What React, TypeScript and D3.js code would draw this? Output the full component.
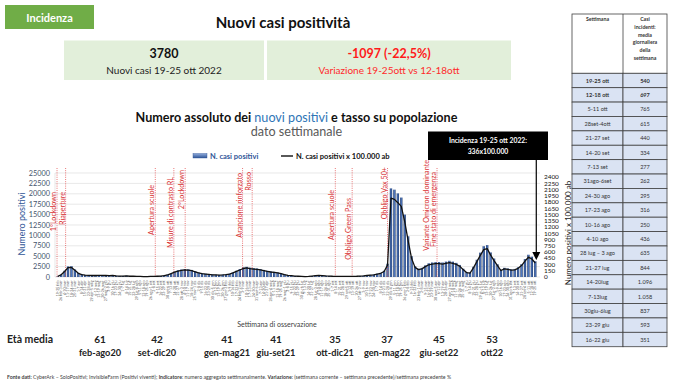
import React from 'react';
import * as d3 from 'd3';

const FONT = 'Lato, "Open Sans", sans-serif';

// N. casi positivi settimanali (17-23 feb 2020 ... 19-25 ott 2022)
const casiSettimanali = [
  150, 600, 1500, 2550, 2600, 1800, 1000, 650, 480, 420,
  400, 400, 420, 450, 400, 350, 400, 300, 250, 250,
  300, 200, 200, 150, 150, 120, 120, 150, 150, 200,
  250, 400, 600, 900, 1300, 1600, 1800, 1900, 1850, 1700,
  1400, 1100, 900, 800, 700, 600, 550, 500, 550, 650,
  800, 1100, 1500, 1900, 2300, 2450, 2250, 2150, 2050, 1900,
  1700, 1500, 1350, 1250, 1100, 900, 650, 450, 350, 250,
  200, 150, 120, 150, 250, 350, 400, 380, 300, 250,
  200, 180, 160, 150, 150, 160, 180, 200, 250, 300,
  400, 500, 600, 800, 1000, 1500, 3200, 21300, 21000, 20100,
  19100, 15000, 9800, 5000, 2600, 2000, 2200, 2800, 3300, 3500,
  3600, 3600, 3500, 3700, 3900, 3700, 3400, 2900, 2000, 1200,
  1050, 2457, 4151, 5859, 7406, 7672, 5908, 4445, 3052, 1750,
  2212, 2065, 1834, 1939, 2338, 3080, 4305, 5355, 4879, 3780,
];

// popolazione: 3780 casi -> 336 x 100.000 ab
const popolazione = 1125000;

const mesi = ['gen', 'feb', 'mar', 'apr', 'mag', 'giu', 'lug', 'ago', 'set', 'ott', 'nov', 'dic'];
const inizioUltimaSettimana = new Date(2022, 9, 19);
const etichetteSettimane = casiSettimanali.map((_, i) => {
  const a = d3.timeDay.offset(inizioUltimaSettimana, -7 * (casiSettimanali.length - 1 - i));
  const b = d3.timeDay.offset(a, 6);
  return a.getMonth() === b.getMonth()
    ? `${a.getDate()}-${b.getDate()} ${mesi[a.getMonth()]}`
    : `${a.getDate()} ${mesi[a.getMonth()]}-${b.getDate()} ${mesi[b.getMonth()]}`;
});

// eventi (posizione in settimane dall'inizio della serie)
const eventiNomi = [
  ['1°Lockdown'], ['Riaperture'], ['Apertura scuole'], ['Misure di contrasto RL'], ['2°Lockdown'],
  ['Arancione rinforzato'], ['Rosso'], ['Apertura scuole'], ['Obbligo Green Pass'], ['Obbligo Vax 50+'],
  ['Variante Omicron dominante', 'Fine stato di emergenza'],
];
const eventiSettimana = [-0.2, 2.3, 28.4, 33.8, 37.1, 53.8, 56.6, 80.8, 85.7, 96.0, 110.4];

// età media per periodo
const etaPeriodi = ['feb-ago20', 'set-dic20', 'gen-mag21', 'giu-set21', 'ott-dic21', 'gen-mag22', 'giu-set22', 'ott22'];
const etaMedia = [61, 42, 41, 41, 35, 37, 45, 53];

// tabella: media giornaliera della settimana
const tabSettimane = [
  '19-25 ott', '12-18 ott', '5-11 ott', '28set-4ott', '21-27 set', '14-20 set', '7-13 set', '31ago-6set',
  '24-30 ago', '17-23 ago', '10-16 ago', '4-10 ago', '28 lug – 3 ago', '21-27 lug', '14-20lug', '7-13lug',
  '30giu-6lug', '23-29 giu', '16-22 giu',
];
const tabMedia = [540, 697, 765, 615, 440, 334, 277, 262, 295, 316, 250, 436, 635, 844, 1096, 1058, 837, 593, 351];

const leftTicks = d3.range(0, 25001, 2500);
const rightTicks = d3.range(0, 2401, 150);

const itFmt = d3.formatLocale({ decimal: ',', thousands: '.', grouping: [3], currency: ['€', ''] }).format(',');

export default function App() {
  const W = 680;
  const H = 390;
  const plot = { left: 56, right: 537, top: 173, bottom: 277 };
  const n = casiSettimanali.length;

  const x = d3.scaleLinear().domain([-0.5, n - 0.5]).range([plot.left, plot.right]);
  const yL = d3.scaleLinear().domain([0, 25000]).range([plot.bottom, plot.top]);
  const yR = d3.scaleLinear().domain([0, 2500]).range([plot.bottom, plot.top]);
  const bw = (x(1) - x(0)) * 0.68;

  const incidenza = casiSettimanali.map(v => (v * 100000) / popolazione);
  const line = d3.line<number>().x((_, i) => x(i)).y(d => yR(d));

  // annotation label tops (layout)
  const annoTop = [192, 192, 185, 177, 170, 173, 172, 190, 198, 167, 160];
  // età media column centres (layout)
  const etaX = [100, 157, 227, 276, 335, 387, 439, 492];

  const tab = { x0: 572, x1: 623, x2: 667, top: 14, head: 73.3, rowH: 14.39 };
  const lastX = x(n - 1) + 1;

  return (
    <svg width={W} height={H} style={{ position: 'absolute', left: 0, top: 0, background: '#fff' }} fontFamily={FONT}>
      <defs>
        <linearGradient id="barG" x1="0" x2="1" y1="0" y2="0">
          <stop offset="0%" stopColor="#1f3864" />
          <stop offset="50%" stopColor="#5079c4" />
          <stop offset="100%" stopColor="#1f3864" />
        </linearGradient>
        <linearGradient id="legG" x1="0" x2="0" y1="0" y2="1">
          <stop offset="0%" stopColor="#8eaadb" />
          <stop offset="100%" stopColor="#2f5597" />
        </linearGradient>
      </defs>

      {/* header */}
      <rect x={5} y={5} width={89} height={24} fill="#70ad47" />
      <text x={49.5} y={21.5} textAnchor="middle" fontSize={11} fontWeight="bold" fill="#fff">Incidenza</text>
      <text x={283} y={28} textAnchor="middle" fontSize={15} fontWeight="bold" fill="#111">Nuovi casi positività</text>

      <rect x={64} y={40.5} width={200} height={39.5} fill="#e2efda" />
      <text x={164} y={58} textAnchor="middle" fontSize={12.5} fontWeight="bold" fill="#111">3780</text>
      <text x={164} y={73.5} textAnchor="middle" fontSize={10} fill="#222">Nuovi casi 19-25 ott 2022</text>
      <rect x={267} y={40.5} width={244} height={39.5} fill="#e2efda" />
      <text x={389} y={58} textAnchor="middle" fontSize={12.5} fontWeight="bold" fill="#ff1a1a">-1097 (-22,5%)</text>
      <text x={389} y={73.5} textAnchor="middle" fontSize={10} fill="#ff2a2a">Variazione 19-25ott vs 12-18ott</text>

      {/* chart title */}
      <text x={296.5} y={121.5} textAnchor="middle" fontSize={12.6} fontWeight="bold" fill="#111">
        Numero assoluto dei <tspan fill="#2e75b6" fontWeight="normal">nuovi positivi</tspan> e tasso su popolazione
      </text>
      <text x={296.5} y={136} textAnchor="middle" fontSize={12.6} fill="#595959">dato settimanale</text>

      {/* legend */}
      <rect x={193} y={153.5} width={14} height={4.5} fill="url(#legG)" stroke="#2f5597" strokeWidth={0.4} />
      <text x={210} y={158.8} fontSize={7.5} fontWeight="bold" fill="#2f5597">N. casi positivi</text>
      <line x1={281} x2={293} y1={156} y2={156} stroke="#111" strokeWidth={1.4} />
      <text x={296} y={158.8} fontSize={7.5} fontWeight="bold" fill="#111">N. casi positivi x 100.000 ab</text>

      {/* grid */}
      {leftTicks.map(t => (
        <line key={t} x1={55} x2={540} y1={yL(t)} y2={yL(t)} stroke="#d9d9d9" strokeWidth={0.6} />
      ))}
      <line x1={55} x2={55} y1={plot.top} y2={plot.bottom} stroke="#d9d9d9" strokeWidth={0.6} />

      {/* left axis */}
      {leftTicks.map(t => (
        <text key={t} x={50} y={yL(t) + 2.5} textAnchor="end" fontSize={7.3} fill="#44546a">{t}</text>
      ))}
      <text transform={`translate(25,224) rotate(-90)`} textAnchor="middle" fontSize={9} fill="#2f5597">Numero positivi</text>

      {/* right axis */}
      {rightTicks.map(t => (
        <text key={t} x={544} y={yR(t) + 2.2} fontSize={6.4} fill="#111">{t}</text>
      ))}
      <text transform={`translate(571,233) rotate(-90)`} textAnchor="middle" fontSize={8} fill="#222">Numero positivi x 100.000 ab</text>

      {/* bars */}
      {casiSettimanali.map((v, i) => (
        <rect key={i} x={x(i) - bw / 2} y={yL(v)} width={bw} height={plot.bottom - yL(v)} fill="url(#barG)" />
      ))}

      {/* events */}
      {eventiSettimana.map((w, k) => {
        const ex = x(w);
        return (
          <g key={k}>
            <line x1={ex} x2={ex} y1={168} y2={plot.bottom} stroke="#e03c3c" strokeWidth={0.7} strokeDasharray="1,1.2" />
            {eventiNomi[k].map((t, j) => (
              <text key={j} transform={`translate(${ex - 1 - (eventiNomi[k].length - 1 - j) * 7.5},${annoTop[k] + j * 12}) rotate(-90)`}
                textAnchor="end" fontSize={7.2} fill="#d93030">{t}</text>
            ))}
          </g>
        );
      })}

      {/* incidence line */}
      <path d={line(incidenza) || ''} fill="none" stroke="#111" strokeWidth={1.3} strokeLinejoin="round" />

      {/* x tick labels */}
      {etichetteSettimane.map((t, i) => (
        <text key={i} transform={`translate(${x(i) + 1.2},280.5) rotate(-90)`} textAnchor="end" fontSize={3.6} fill="#595959">{t}</text>
      ))}
      <text x={277} y={326.5} textAnchor="middle" fontSize={7} fill="#404040">Settimana di osservazione</text>

      {/* callout */}
      <rect x={428} y={131.5} width={120} height={28.5} fill="#000" />
      <text x={488} y={143.3} textAnchor="middle" fontSize={6.8} fontWeight="bold" fill="#fff">Incidenza 19-25 ott 2022:</text>
      <text x={488} y={153.5} textAnchor="middle" fontSize={6.8} fontWeight="bold" fill="#fff">336x100.000</text>
      <line x1={lastX} x2={lastX} y1={160} y2={254} stroke="#000" strokeWidth={1.2} />
      <path d={`M${lastX - 4},252 L${lastX + 4},252 L${lastX},260 Z`} fill="#000" />

      {/* età media */}
      <text x={7} y={343} fontSize={10.5} fontWeight="bold" fill="#222">Età media</text>
      {etaMedia.map((v, k) => (
        <g key={k}>
          <text x={etaX[k]} y={343} textAnchor="middle" fontSize={10} fontWeight="bold" fill="#222">{v}</text>
          <text x={etaX[k]} y={356} textAnchor="middle" fontSize={9.2} fontWeight="bold" fill="#222">{etaPeriodi[k]}</text>
        </g>
      ))}

      {/* footer */}
      <text x={7} y={379} fontSize={5.2} fill="#404040">
        <tspan fontWeight="bold">Fonte dati: </tspan>CyberArk – SoloPositivi; InvisibleFarm (Positivi viventi);{' '}
        <tspan fontWeight="bold">Indicatore</tspan>: numero aggregato settimanalmente.{' '}
        <tspan fontWeight="bold">Variazione</tspan>: (settimana corrente – settimana precedente)/settimana precedente %
      </text>

      {/* table */}
      <rect x={tab.x0} y={tab.top} width={tab.x2 - tab.x0} height={tab.head - tab.top} fill="#fff" stroke="#404040" strokeWidth={0.8} />
      <line x1={tab.x1} x2={tab.x1} y1={tab.top} y2={tab.head} stroke="#404040" strokeWidth={0.8} />
      <text x={(tab.x0 + tab.x1) / 2} y={21} textAnchor="middle" fontSize={5.2} fontWeight="bold" fill="#333">Settimana</text>
      {['Casi', 'incidenti:', 'media', 'giornaliera', 'della', 'settimana'].map((t, j) => (
        <text key={j} x={(tab.x1 + tab.x2) / 2} y={21 + j * 7.8} textAnchor="middle" fontSize={5.2} fontWeight="bold" fill="#333">{t}</text>
      ))}
      {tabSettimane.map((s, r) => {
        const ry = tab.head + r * tab.rowH;
        const bold = r < 2 ? 'bold' : 'normal';
        return (
          <g key={r}>
            <rect x={tab.x0} y={ry} width={tab.x1 - tab.x0} height={tab.rowH} fill="#dae3f3" stroke="#404040" strokeWidth={0.8} />
            <rect x={tab.x1} y={ry} width={tab.x2 - tab.x1} height={tab.rowH} fill="#dae3f3" stroke="#404040" strokeWidth={0.8} />
            <text x={(tab.x0 + tab.x1) / 2} y={ry + 9.4} textAnchor="middle" fontSize={5.6} fontWeight={bold} fill="#333">{s}</text>
            <text x={(tab.x1 + tab.x2) / 2} y={ry + 9.4} textAnchor="middle" fontSize={5.6} fontWeight={bold} fill="#333">{itFmt(tabMedia[r])}</text>
          </g>
        );
      })}
    </svg>
  );
}
